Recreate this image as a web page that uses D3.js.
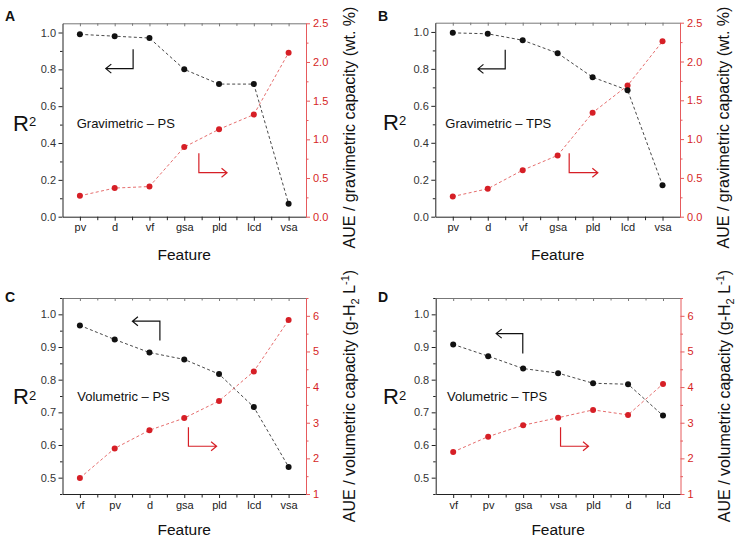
<!DOCTYPE html>
<html><head><meta charset="utf-8">
<script src="https://cdn.jsdelivr.net/npm/d3@7"></script>
<style>body{margin:0;background:#fff}svg{display:block}text{font-family:"Liberation Sans",Arial,sans-serif}</style>
</head><body><svg id="c" width="736" height="538"></svg>
<script>
// ---- data ----
const catsA = ["pv","d","vf","gsa","pld","lcd","vsa"];
const r2A   = [0.99,0.98,0.97,0.80,0.72,0.72,0.07];
const aueA  = [0.27,0.37,0.39,0.90,1.13,1.32,2.12];
const catsB = ["pv","d","vf","gsa","pld","lcd","vsa"];
const r2B   = [0.995,0.99,0.955,0.885,0.755,0.685,0.17];
const aueB  = [0.26,0.36,0.60,0.79,1.34,1.69,2.26];
const catsC = ["vf","pv","d","gsa","pld","lcd","vsa"];
const r2C   = [0.966,0.923,0.883,0.862,0.817,0.716,0.533];
const aueC  = [1.45,2.28,2.79,3.13,3.61,4.44,5.88];
const catsD = ["vf","pv","gsa","vsa","pld","d","lcd"];
const r2D   = [0.908,0.872,0.834,0.820,0.789,0.786,0.690];
const aueD  = [2.18,2.61,2.93,3.14,3.36,3.22,4.09];
const leftTicksGrav  = [0,0.2,0.4,0.6,0.8,1.0];
const rightTicksGrav = [0,0.5,1.0,1.5,2.0,2.5];
const leftTicksVol   = [0.5,0.6,0.7,0.8,0.9,1.0];
const rightTicksVol  = [1,2,3,4,5,6];

const svg = d3.select("#c");
const RED = "#d61f26", RED_AX = "#e65a5d", RED_LINE = "#e25c5c";

function panel(cfg){
  const g = svg.append("g");
  const n = cfg.cats.length;
  const x = d3.scalePoint().domain(cfg.cats).range([cfg.left,cfg.right]).padding(0.5);
  const xi = d3.scaleLinear().domain([0,n-1]).range([x(cfg.cats[0]), x(cfg.cats[n-1])]);
  const yL = d3.scaleLinear().domain(cfg.ld).range([cfg.bottom,cfg.top]);
  const yR = d3.scaleLinear().domain(cfg.rd).range([cfg.bottom,cfg.top]);
  const halfs = d3.range(-0.5, n, 1);
  const lMinor = d3.range(cfg.ld[0], cfg.ld[1]+1e-9, cfg.lm).filter(v=>!cfg.lt.some(t=>Math.abs(t-v)<1e-6));
  const rMinor = d3.range(cfg.rd[0], cfg.rd[1]+1e-9, cfg.rm).filter(v=>!cfg.rt.some(t=>Math.abs(t-v)<1e-6));
  const style = (sel,col,tcol)=>{sel.selectAll("path,line").attr("stroke",col).attr("stroke-width",1);sel.selectAll("text").attr("fill",tcol).style("font-size","11px");};

  // top
  const gt = g.append("g").attr("transform",`translate(0,${cfg.top})`).call(d3.axisTop(x).tickSize(-3).tickSizeOuter(0).tickFormat(""));
  style(gt,"#777","#777");
  g.append("g").attr("transform",`translate(0,${cfg.top})`).call(d3.axisTop(xi).tickValues(halfs.slice(1,-1)).tickSize(-2.5).tickFormat("")).call(s=>{s.select(".domain").remove();style(s,"#777","#777");});
  // bottom
  const gb = g.append("g").attr("transform",`translate(0,${cfg.bottom})`).call(d3.axisBottom(x).tickSize(4).tickSizeOuter(0).tickPadding(3));
  style(gb,"#222","#222");
  g.append("g").attr("transform",`translate(0,${cfg.bottom})`).call(d3.axisBottom(xi).tickValues(halfs.slice(1,-1)).tickSize(3.5).tickFormat("")).call(s=>{s.select(".domain").remove();style(s,"#222","#222");});
  // left
  const gl = g.append("g").attr("transform",`translate(${cfg.left},0)`).call(d3.axisLeft(yL).tickValues(cfg.lt).tickFormat(d3.format(".1f")).tickSize(4).tickSizeOuter(0).tickPadding(2.5));
  style(gl,"#222","#333");
  g.append("g").attr("transform",`translate(${cfg.left},0)`).call(d3.axisLeft(yL).tickValues(lMinor).tickFormat("").tickSize(2.5)).call(s=>{s.select(".domain").remove();style(s,"#222","#222");});
  // right
  const gr = g.append("g").attr("transform",`translate(${cfg.right},0)`).call(d3.axisRight(yR).tickValues(cfg.rt).tickFormat(cfg.rf).tickSize(4).tickSizeOuter(0).tickPadding(3));
  style(gr,RED_AX,RED);
  g.append("g").attr("transform",`translate(${cfg.right},0)`).call(d3.axisRight(yR).tickValues(rMinor).tickFormat("").tickSize(2.5)).call(s=>{s.select(".domain").remove();style(s,RED_AX,RED);});

  // lines
  const lineL = d3.line().x((d,i)=>x(cfg.cats[i])).y(d=>yL(d));
  const lineR = d3.line().x((d,i)=>x(cfg.cats[i])).y(d=>yR(d));
  g.append("path").attr("d",lineL(cfg.r2)).attr("fill","none").attr("stroke","#333").attr("stroke-width",0.9).attr("stroke-dasharray","3,2.4");
  g.append("path").attr("d",lineR(cfg.aue)).attr("fill","none").attr("stroke",RED_LINE).attr("stroke-width",0.9).attr("stroke-dasharray","3,2.4");
  g.selectAll(".pr").data(cfg.aue).join("circle").attr("cx",(d,i)=>x(cfg.cats[i])).attr("cy",d=>yR(d)).attr("r",3).attr("fill",RED);
  g.selectAll(".pl").data(cfg.r2).join("circle").attr("cx",(d,i)=>x(cfg.cats[i])).attr("cy",d=>yL(d)).attr("r",3).attr("fill","#111");

  // arrows (annotation, in data units)
  function arrow(a, ys, col){
    const cx = xi(a.x), cy = ys(a.yc), ty = ys(a.yt), tx = xi(a.xt);
    const dir = tx < cx ? 1 : -1;
    g.append("path").attr("d",`M${cx},${ty}L${cx},${cy}L${tx},${cy}M${tx+dir*5.5},${cy-4.5}L${tx},${cy}L${tx+dir*5.5},${cy+4.5}`)
      .attr("fill","none").attr("stroke",col).attr("stroke-width",1.2);
  }
  arrow(cfg.aL, yL, "#111");
  arrow(cfg.aR, yR, RED);

  // texts
  g.append("text").attr("x",cfg.tx).attr("y",cfg.ty).style("font-size","13px").attr("fill","#111").text(cfg.label);
  const r = g.append("text").attr("x",cfg.rx).attr("y",cfg.ry).style("font-size","22px").attr("fill","#111");
  r.append("tspan").text("R");
  r.append("tspan").attr("dy",-4.5).style("font-size","13px").text("2");
  g.append("text").attr("x",(cfg.left+cfg.right)/2 + 0).attr("y",cfg.fy).attr("text-anchor","middle").style("font-size","15.5px").attr("fill","#111").text("Feature");
  g.append("text").attr("x",cfg.lx).attr("y",cfg.ly).style("font-size","14px").style("font-weight","bold").attr("fill","#111").text(cfg.letter);
  const t = g.append("text").attr("transform",`translate(${cfg.right+49},${cfg.rty}) rotate(-90)`).attr("text-anchor","middle").style("font-size","16px").attr("fill","#111");
  cfg.rtitle(t);
}

const grav = t=>t.text("AUE / gravimetric capacity (wt. %)");
const vol = t=>{
  t.append("tspan").text("AUE / volumetric capacity (g-H");
  t.append("tspan").attr("dy",4).style("font-size","11px").text("2");
  t.append("tspan").attr("dy",-4).text(" L");
  t.append("tspan").attr("dy",-6).style("font-size","11px").text("-1");
  t.append("tspan").attr("dy",6).text(")");
};

panel({cats:catsA,r2:r2A,aue:aueA,left:62.5,right:306,top:23.3,bottom:216.7,ld:[0,1.05],rd:[0,2.5],lt:leftTicksGrav,rt:rightTicksGrav,lm:0.1,rm:0.25,rf:d3.format(".1f"),
  aL:{x:1.53,yt:0.909,yc:0.804,xt:0.745},aR:{x:3.42,yt:0.82,yc:0.569,xt:4.23},
  label:"Gravimetric \u2013 PS",tx:76.7,ty:127.6,rx:13,ry:130.7,fy:260,letter:"A",lx:5,ly:21,rty:127.5,rtitle:grav});
panel({cats:catsB,r2:r2B,aue:aueB,left:435.3,right:680,top:22.7,bottom:216.7,ld:[0,1.05],rd:[0,2.5],lt:leftTicksGrav,rt:rightTicksGrav,lm:0.1,rm:0.25,rf:d3.format(".1f"),
  aL:{x:1.50,yt:0.904,yc:0.80,xt:0.72},aR:{x:3.33,yt:0.817,yc:0.567,xt:4.15},
  label:"Gravimetric \u2013 TPS",tx:445.3,ty:127.6,rx:383,ry:129.5,fy:260,letter:"B",lx:378,ly:21,rty:127.5,rtitle:grav});
panel({cats:catsC,r2:r2C,aue:aueC,left:62.5,right:306,top:298,bottom:494,ld:[0.45,1.05],rd:[1,6.5],lt:leftTicksVol,rt:rightTicksVol,lm:0.05,rm:0.5,rf:d3.format("d"),
  aL:{x:2.30,yt:0.920,yc:0.979,xt:1.51},aR:{x:3.12,yt:2.87,yc:2.34,xt:3.93},
  label:"Volumetric \u2013 PS",tx:77.3,ty:401,rx:13,ry:404,fy:535,letter:"C",lx:5,ly:302,rty:396,rtitle:vol});
panel({cats:catsD,r2:r2D,aue:aueD,left:435.7,right:680.5,top:298,bottom:494,ld:[0.45,1.05],rd:[1,6.5],lt:leftTicksVol,rt:rightTicksVol,lm:0.05,rm:0.5,rf:d3.format("d"),
  aL:{x:1.99,yt:0.880,yc:0.941,xt:1.23},aR:{x:3.07,yt:2.87,yc:2.34,xt:3.87},
  label:"Volumetric \u2013 TPS",tx:447,ty:401,rx:383,ry:404,fy:535,letter:"D",lx:378,ly:302,rty:396,rtitle:vol});
</script></body></html>
